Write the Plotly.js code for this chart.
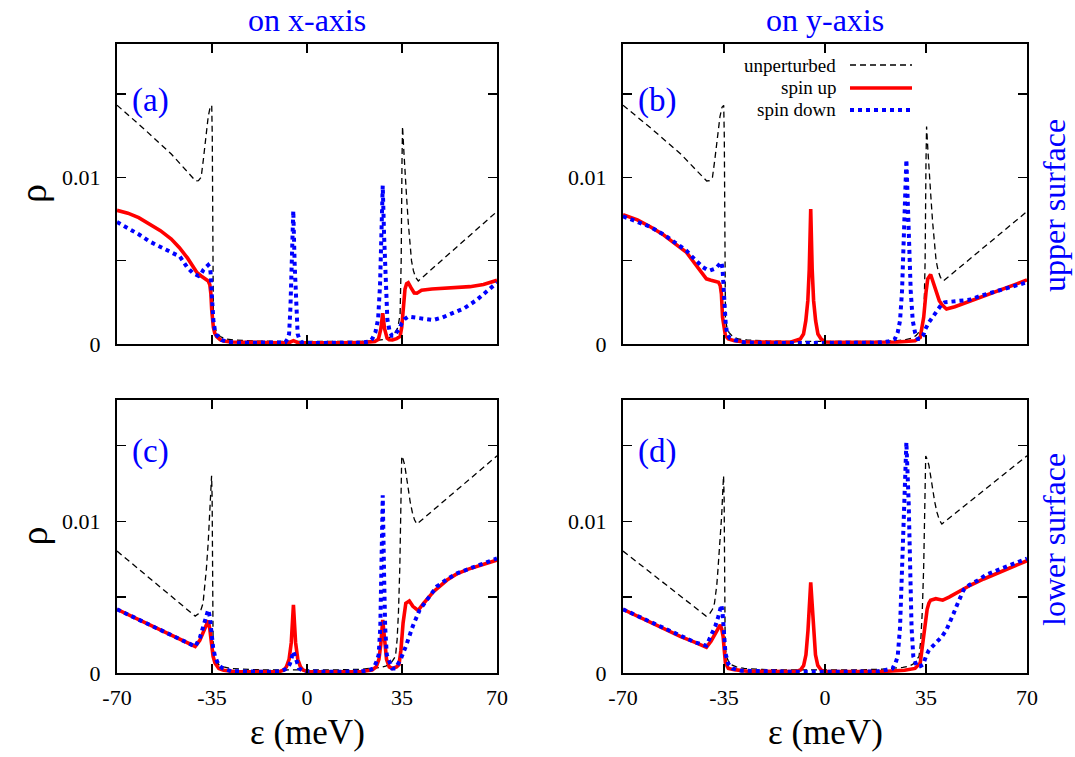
<!DOCTYPE html>
<html><head><meta charset="utf-8">
<script src="https://cdn.plot.ly/plotly-3.0.1.min.js"></script>
<style>html,body{margin:0;padding:0;background:#fff}#chart{width:1075px;height:757px}</style>
</head><body><div id="chart"></div>
<script>
// ---------------- DATA ----------------
const xTickVals = [-70, -35, 0, 35, 70];
const xTickText = ['-70', '-35', '0', '35', '70'];
const yTickVals = [0, 0.005, 0.01, 0.015];
const yTickText = ['0', '', '0.01', ''];
const columnTitles = ['on x-axis', 'on y-axis'];
const rowTitles = ['upper surface', 'lower surface'];
const panelLabels = ['(a)', '(b)', '(c)', '(d)'];
const seriesNames = ['unperturbed', 'spin up', 'spin down'];

// unperturbed, upper surface (panels a, b)
const unpertUpperX = [-70,-60,-50,-44,-41,-40,-39,-38.2,-37.2,-36.4,-35.7,-35.1,-34.9,-34.75,-34.5,-34.0,-33.3,-32,-30,-27,-20,-10,0,10,20,25,28,30,31.5,32.5,33.5,34.3,34.7,35.0,35.2,35.6,36.1,36.7,37.3,37.9,38.5,39.2,40.0,41.0,45,50,55,60,65,70];
const unpertUpperY = [0.01433,0.0129,0.0114,0.01035,0.00978,0.0098,0.0100,0.01104,0.01244,0.01364,0.01420,0.01432,0.0125,0.006,0.0015,0.0010,0.0007,0.00045,0.0003,0.00024,0.00018,0.00015,0.00014,0.00014,0.00016,0.0002,0.00026,0.00035,0.0005,0.0007,0.0010,0.0018,0.005,0.0110,0.01305,0.0118,0.0102,0.0088,0.0073,0.0059,0.0050,0.0044,0.0040,0.00378,0.00436,0.00507,0.00579,0.00651,0.00723,0.00795];

// unperturbed, lower surface (panels c, d)
const unpertLowerX = [-70,-65,-60,-55,-50,-45,-41.2,-40,-39,-38.3,-37.5,-37.1,-36.4,-35.8,-35.4,-35.15,-34.95,-34.8,-34.6,-34.2,-33.5,-32.5,-30.7,-28,-20,-10,0,10,20,24,27,29,30.5,31.5,32.6,33.2,33.7,34.2,34.6,34.9,35.4,36.0,36.6,37.3,38.0,38.8,39.6,40.5,45,50,55,60,65,70];
const unpertLowerY = [0.00804,0.0073,0.00655,0.0058,0.00506,0.00432,0.00375,0.0039,0.0042,0.0046,0.0058,0.0068,0.0086,0.0104,0.0121,0.0130,0.0115,0.006,0.0020,0.0011,0.0008,0.00055,0.0004,0.0003,0.00022,0.0002,0.0002,0.0002,0.00025,0.0003,0.00037,0.00045,0.00058,0.0008,0.0011,0.0022,0.0040,0.0070,0.0110,0.0143,0.0141,0.0137,0.0130,0.0121,0.0113,0.0106,0.0101,0.00982,0.01051,0.01127,0.01203,0.0128,0.01356,0.01432];

// (a) on x-axis, upper surface
const upAX = [-70,-66,-62,-58,-54,-50,-47,-44,-42,-40.5,-39,-37.5,-36.4,-35.8,-35.4,-35.1,-34.8,-34.5,-34,-33.3,-32,-30.8,-28,-20,-10,-6.5,-5,-3.5,0,10,20,25,26.3,27.2,27.9,28.6,29.5,30.3,31.5,33,34.3,34.9,35.5,36.1,36.7,37.3,38.3,39.5,40.5,42.2,46,50,55,60,65,70];
const upAY = [0.00802,0.00785,0.00758,0.00722,0.0068,0.0063,0.00578,0.00515,0.00462,0.00428,0.00408,0.00394,0.00378,0.00355,0.0030,0.00204,0.0014,0.0010,0.00065,0.00044,0.00026,0.00018,0.00012,0.00008,0.00007,0.00009,0.0002,0.00009,0.00007,0.00007,0.00008,0.00015,0.00028,0.0009,0.00184,0.0009,0.00035,0.00026,0.00024,0.00032,0.00046,0.0010,0.0020,0.0033,0.00362,0.00368,0.00338,0.00306,0.00305,0.00322,0.0033,0.00334,0.00338,0.00344,0.00357,0.00382];
const downAX = [-70,-66,-62,-58,-54,-50,-46.8,-44.3,-42,-40,-39,-38.2,-37,-36.4,-35.8,-35.5,-35.1,-34.8,-34.5,-34,-33.3,-31.5,-29,-25,-15,-8,-7.2,-6.6,-6.1,-5.55,-5.05,-4.55,-4.05,-3.45,-2.85,-2,0,10,20,23,24.0,25.2,26.2,26.9,27.4,27.9,28.4,28.9,29.6,30.5,31.3,32,33,34,34.9,36,37.3,39,41.6,44,46.5,50,53.9,58,62.5,66,70];
const downAY = [0.00732,0.00698,0.00658,0.00615,0.0058,0.0055,0.00524,0.00464,0.00424,0.00408,0.0042,0.00444,0.00465,0.00474,0.0046,0.00424,0.00304,0.0020,0.00144,0.0009,0.00054,0.00024,0.00012,0.00007,0.00006,0.0001,0.0003,0.0006,0.0022,0.0048,0.0080,0.0048,0.0022,0.0006,0.0003,0.0001,0.00006,0.00006,0.00008,0.00015,0.0003,0.0007,0.0015,0.0035,0.0065,0.0095,0.0065,0.0035,0.0015,0.0007,0.0005,0.0005,0.00066,0.0009,0.00126,0.0015,0.00164,0.0016,0.00154,0.00148,0.00144,0.0016,0.00184,0.00215,0.00264,0.0031,0.00368];

// (b) on y-axis, upper surface
const upBX = [-70,-65,-60.4,-56,-51.9,-48,-45.9,-43.5,-41.1,-39.5,-38,-36.9,-36.3,-35.9,-35.5,-35.0,-34.5,-33.5,-31.4,-28,-20,-12,-8.55,-7.45,-6.65,-5.95,-5.45,-4.95,-4.45,-3.95,-3.25,-2.45,-1.35,0,5,15,25,29,31.2,33.0,34.2,35.0,35.6,36.6,37.5,38.4,39.6,40.8,42.1,45,50,54.1,58,62,66,70];
const upBY = [0.00776,0.00745,0.00702,0.00655,0.00601,0.0055,0.00501,0.0045,0.00391,0.00383,0.00378,0.00371,0.0035,0.0030,0.0016,0.0009,0.0005,0.0003,0.0002,0.00012,0.0001,0.0001,0.0003,0.0006,0.0014,0.0026,0.0045,0.0081,0.0045,0.0026,0.0014,0.0006,0.0003,0.00012,0.0001,0.0001,0.00012,0.00016,0.0002,0.0004,0.0016,0.0031,0.0039,0.00417,0.0037,0.0032,0.0026,0.0023,0.0021,0.00224,0.00255,0.0028,0.00305,0.00332,0.00358,0.00385];
const downBX = [-70,-65,-60.4,-56,-51.9,-48,-45.9,-44,-42.3,-40.8,-39.9,-38.5,-37.5,-36.5,-35.9,-35.5,-35.3,-35.0,-34.8,-34.4,-33.9,-33,-31.4,-28,-20,-10,0,10,18,22,24.2,25.2,26.0,26.7,27.5,27.9,28.2,28.5,28.9,29.7,30.4,31.2,32.2,33,34,34.8,36,37.2,38.4,39.6,40.5,41.4,45,50,54.1,58,62,66,70];
const downBY = [0.00766,0.00735,0.00702,0.00658,0.00611,0.0056,0.00521,0.0049,0.00461,0.00445,0.00441,0.0045,0.00461,0.0048,0.00491,0.0045,0.0038,0.0028,0.0022,0.0012,0.0006,0.00035,0.00024,0.0001,0.00005,0.00005,0.00005,0.00005,0.00008,0.00015,0.0003,0.0007,0.0014,0.0032,0.0066,0.0095,0.01106,0.0095,0.0066,0.0032,0.0014,0.0007,0.0003,0.0003,0.0005,0.0009,0.0013,0.0016,0.0019,0.0022,0.0024,0.0025,0.00255,0.00265,0.0029,0.0031,0.0033,0.00352,0.0037];

// (c) on x-axis, lower surface
const upCX = [-70,-65,-60,-55,-50,-45,-41.2,-39.5,-38,-37,-36.4,-35.8,-35.2,-34.6,-33.9,-32.5,-30.7,-27,-15,-10,-8.5,-7.6,-6.6,-5.8,-5.0,-4.2,-3.4,-2.4,-1.5,0,10,20,24,25.5,26.5,27.2,27.9,28.6,29.3,30.3,31.4,33,33.9,34.6,35.4,36.4,37.7,39,40.9,43,46.6,51.6,55,59.2,65,70];
const upCY = [0.0042,0.00378,0.00335,0.00293,0.0025,0.00208,0.00175,0.00215,0.0027,0.0032,0.00346,0.0029,0.00197,0.0011,0.00066,0.0003,0.00018,0.0001,0.00008,0.0001,0.0002,0.0004,0.0009,0.002,0.00449,0.002,0.0009,0.0004,0.0002,0.0001,0.00008,0.0001,0.0002,0.0004,0.0009,0.0019,0.0035,0.0019,0.0009,0.0004,0.0003,0.0004,0.00055,0.0015,0.0033,0.0046,0.00475,0.0044,0.00412,0.0046,0.00536,0.00613,0.00652,0.00683,0.00715,0.00745];
const downCX = [-70,-65,-60,-55,-50,-45,-41.2,-39.5,-38,-37,-36.4,-35.8,-35.2,-34.6,-33.9,-32.5,-31,-28,-15,-10,-8.5,-7.3,-6.3,-5.6,-5.0,-4.4,-3.7,-2.9,-1.5,0,10,20,23,24.4,25.5,26.4,27.0,27.4,27.9,28.4,28.8,29.4,30.3,31.4,32.6,34.5,36.4,39.0,41.5,44,47.8,51.6,55,59.2,65,70];
const downCY = [0.0042,0.00378,0.00335,0.00293,0.0025,0.00208,0.00175,0.0023,0.0031,0.0038,0.00416,0.0037,0.0026,0.0017,0.0011,0.0005,0.0003,0.00012,0.00008,0.0001,0.0002,0.0003,0.0006,0.0011,0.00142,0.0011,0.0006,0.0003,0.00015,0.0001,0.00008,0.0001,0.0002,0.0003,0.0007,0.0012,0.0030,0.0065,0.01172,0.0065,0.0030,0.0012,0.0007,0.0003,0.0003,0.0009,0.00175,0.0031,0.00416,0.0048,0.0057,0.00618,0.00655,0.00684,0.00722,0.00755];

// (d) on y-axis, lower surface
const upDX = [-70,-65,-60,-55,-50,-45,-41.1,-39.5,-38,-37,-36.3,-35.8,-35.3,-34.9,-34.5,-33.5,-31.4,-27,-15,-10,-8.5,-7.4,-6.6,-5.9,-4.95,-4.0,-3.3,-2.5,-1.3,0,10,20,27.6,31.2,33.0,34.2,34.8,35.4,36.0,36.6,38.4,39.5,40.8,43,45.7,50.5,55,60.1,65,70];
const upDY = [0.0042,0.00375,0.0033,0.00285,0.0024,0.00202,0.00169,0.0021,0.0026,0.0029,0.00318,0.0029,0.0024,0.0015,0.00066,0.0003,0.00022,0.00012,0.0001,0.0001,0.0002,0.0005,0.0012,0.0028,0.00598,0.0028,0.0012,0.0005,0.00018,0.0001,0.0001,0.0001,0.00018,0.0003,0.00066,0.0024,0.0035,0.0042,0.0046,0.0048,0.0049,0.00485,0.0048,0.0050,0.0053,0.0058,0.0062,0.0066,0.0070,0.0074];
const downDX = [-70,-65,-60,-55,-50,-45,-41.1,-39.5,-38,-37,-35.9,-35.5,-35.0,-34.5,-33.5,-32.1,-29,-20,-10,0,10,18,21,23.4,24.5,25.2,26.0,26.6,27.3,28.2,29.0,29.5,30.0,30.6,31.2,31.8,33,34.0,35,36.0,37.5,39.0,40.5,42.1,43.5,44.5,46,48.1,50,52.9,56,60,65,70];
const downDY = [0.0042,0.00375,0.0033,0.00285,0.0024,0.00202,0.0018,0.0024,0.0031,0.0037,0.00449,0.0040,0.00285,0.0013,0.0006,0.0003,0.00015,0.0001,0.00008,0.00008,0.00008,0.0001,0.0002,0.0003,0.0007,0.0011,0.0030,0.0060,0.0112,0.01522,0.0112,0.0060,0.0030,0.0011,0.0007,0.00044,0.00045,0.00055,0.0011,0.0015,0.0018,0.0021,0.0024,0.00285,0.0034,0.0039,0.0046,0.0055,0.0058,0.0061,0.0065,0.0068,0.0072,0.00755];

// ---------------- LAYOUT ----------------
const W = 1075, H = 757;
const fx = p => p / W;
const fy = p => 1 - p / H;
const SERIF = '"Liberation Serif", "Times New Roman", Times, serif';
const BLUE = '#0000ff', RED = '#ff0000';

const panelBox = [
  {l:117, r:497, t:44, b:344},
  {l:623, r:1027, t:44, b:344},
  {l:117, r:497, t:400, b:673},
  {l:623, r:1027, t:400, b:673}
];

const styles = [
  {color:'#000000', width:1.3, dash:'6px,4px'},
  {color:RED, width:3.6, dash:'solid'},
  {color:BLUE, width:4, dash:'dot'}
];

const panelData = [
  [[unpertUpperX, unpertUpperY], [upAX, upAY], [downAX, downAY]],
  [[unpertUpperX, unpertUpperY], [upBX, upBY], [downBX, downBY]],
  [[unpertLowerX, unpertLowerY], [upCX, upCY], [downCX, downCY]],
  [[unpertLowerX, unpertLowerY], [upDX, upDY], [downDX, downDY]]
];

const traces = [];
panelData.forEach((series, i) => {
  const sfx = i === 0 ? '' : String(i + 1);
  series.forEach((s, j) => {
    traces.push({
      type:'scatter', mode:'lines', x:s[0], y:s[1], name:seriesNames[j],
      xaxis:'x' + sfx, yaxis:'y' + sfx, showlegend:false, hoverinfo:'skip',
      line:{color:styles[j].color, width:styles[j].width, dash:styles[j].dash}
    });
  });
});

const layout = {
  width:W, height:H, margin:{l:0, r:0, t:0, b:0},
  paper_bgcolor:'#ffffff', plot_bgcolor:'#ffffff',
  font:{family:SERIF},
  showlegend:false, annotations:[], shapes:[]
};

panelBox.forEach((p, i) => {
  const sfx = i === 0 ? '' : String(i + 1);
  const bottomRow = i >= 2;
  const isLeft = i % 2 === 0;
  layout['xaxis' + sfx] = {
    domain:[fx(p.l), fx(p.r)], anchor:'y' + sfx, range:[-70, 70],
    tickmode:'array', tickvals:xTickVals, ticktext:xTickText,
    ticks:'inside', ticklen:9, tickwidth:1.4, tickcolor:'#000',
    showline:true, linecolor:'#000', linewidth:2, mirror:'ticks',
    showgrid:false, zeroline:false, showticklabels:bottomRow,
    ticklabelstandoff:4,
    tickfont:{family:SERIF, size:22, color:'#000'}, fixedrange:true
  };
  layout['yaxis' + sfx] = {
    domain:[fy(p.b), fy(p.t)], anchor:'x' + sfx, range:[0, 0.018],
    tickmode:'array', tickvals:yTickVals, ticktext:yTickText,
    ticks:'inside', ticklen:9, tickwidth:1.4, tickcolor:'#000',
    showline:true, linecolor:'#000', linewidth:2, mirror:'ticks',
    showgrid:false, zeroline:false, showticklabels:true,
    ticklabelstandoff:10,
    tickfont:{family:SERIF, size:22, color:'#000'}, fixedrange:true
  };
  // panel label
  layout.annotations.push({
    xref:'paper', yref:'paper', x:fx(p.l + 13), y:fy(p.t + 0.187 * (p.b - p.t)),
    xanchor:'left', yanchor:'middle', showarrow:false, text:panelLabels[i],
    font:{family:SERIF, size:33, color:BLUE}
  });
  if (isLeft) {
    layout.annotations.push({
      xref:'paper', yref:'paper', x:fx(33), y:fy((p.t + p.b) / 2),
      xanchor:'center', yanchor:'middle', showarrow:false, text:'ρ', textangle:-90,
      font:{family:SERIF, size:38, color:'#000'}
    });
  }
  if (bottomRow) {
    layout.annotations.push({
      xref:'paper', yref:'paper', x:fx((p.l + p.r) / 2), y:fy(732),
      xanchor:'center', yanchor:'middle', showarrow:false, text:'ε (meV)',
      font:{family:SERIF, size:35, color:'#000'}
    });
  } else {
    layout.annotations.push({
      xref:'paper', yref:'paper', x:fx((p.l + p.r) / 2), y:fy(20),
      xanchor:'center', yanchor:'middle', showarrow:false, text:columnTitles[i],
      font:{family:SERIF, size:32, color:BLUE}
    });
  }
});

// row labels on the right
layout.annotations.push({
  xref:'paper', yref:'paper', x:fx(1054), y:fy(206), xanchor:'center', yanchor:'middle',
  showarrow:false, text:rowTitles[0], textangle:-90, font:{family:SERIF, size:32, color:BLUE}
});
layout.annotations.push({
  xref:'paper', yref:'paper', x:fx(1054), y:fy(540), xanchor:'center', yanchor:'middle',
  showarrow:false, text:rowTitles[1], textangle:-90, font:{family:SERIF, size:32, color:BLUE}
});

// legend (gnuplot style: text then sample) inside panel (b)
const legendRows = [65, 88, 110];
seriesNames.forEach((nm, j) => {
  layout.annotations.push({
    xref:'paper', yref:'paper', x:fx(838), y:fy(legendRows[j]), xanchor:'right', yanchor:'middle',
    showarrow:false, text:nm, font:{family:SERIF, size:19, color:'#000'}
  });
  layout.shapes.push({
    type:'line', xref:'paper', yref:'paper', x0:fx(850), x1:fx(912),
    y0:fy(legendRows[j]), y1:fy(legendRows[j]),
    line:{color:styles[j].color, width:styles[j].width, dash:styles[j].dash}
  });
});

Plotly.newPlot('chart', traces, layout, {displayModeBar:false, staticPlot:true});
</script>
</body></html>
